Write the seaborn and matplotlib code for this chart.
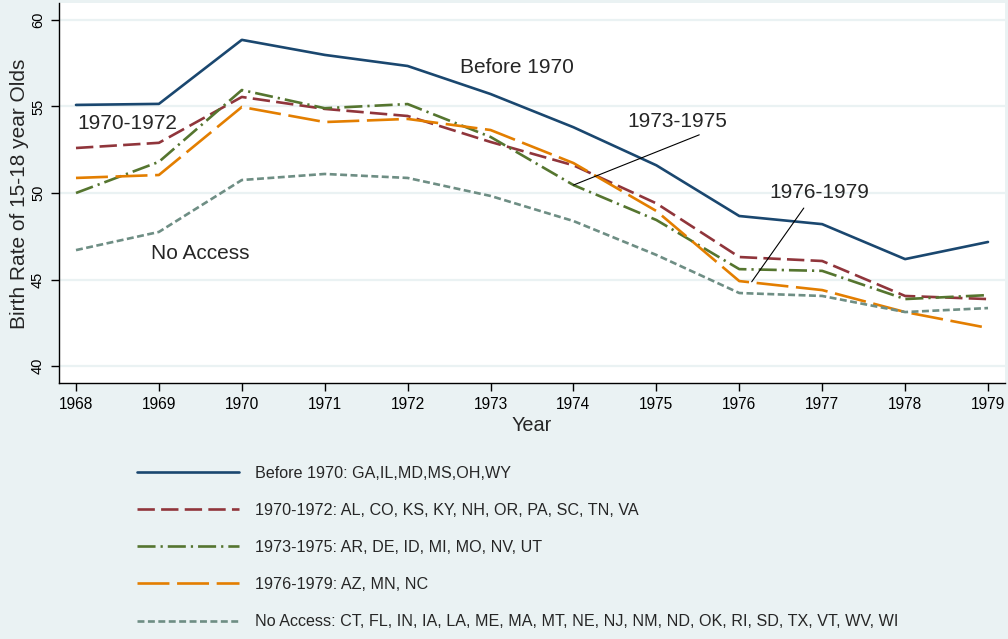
import pandas as pd
import matplotlib.pyplot as plt
import seaborn as sns

years = list(range(1968, 1980))

before_1970 = [55.09, 55.15, 58.85, 57.98, 57.34, 55.72, 53.80, 51.60, 48.67, 48.20, 46.18, 47.17]
y1970_1972 = [52.60, 52.90, 55.55, 54.86, 54.45, 52.95, 51.60, 49.40, 46.30, 46.07, 44.05, 43.87]
y1973_1975 = [50.00, 51.80, 55.95, 54.90, 55.14, 53.24, 50.46, 48.44, 45.60, 45.50, 43.87, 44.10]
y1976_1979 = [50.87, 51.04, 54.97, 54.10, 54.28, 53.64, 51.73, 48.96, 44.91, 44.39, 43.12, 42.20]
no_access = [46.70, 47.75, 50.75, 51.10, 50.87, 49.83, 48.38, 46.42, 44.22, 44.05, 43.12, 43.35]

groups = ["Before 1970", "1970-1972", "1973-1975", "1976-1979", "No Access"]
legend_labels = [
    "Before 1970: GA,IL,MD,MS,OH,WY",
    "1970-1972: AL, CO, KS, KY, NH, OR, PA, SC, TN, VA",
    "1973-1975: AR, DE, ID, MI, MO, NV, UT",
    "1976-1979: AZ, MN, NC",
    "No Access: CT, FL, IN, IA, LA, ME, MA, MT, NE, NJ, NM, ND, OK, RI, SD, TX, VT, WV, WI",
]
colors = ["#1a476f", "#90353b", "#55752f", "#e37e00", "#6e8e84"]
dashes = [None, (12.5, 4.5), (13, 3.6, 1.6, 3.6), (23, 5.5), (5, 2.5)]

# long form table for seaborn
series = [before_1970, y1970_1972, y1973_1975, y1976_1979, no_access]
df = pd.concat(
    [pd.DataFrame({"Year": years, "rate": vals, "group": g}) for g, vals in zip(groups, series)],
    ignore_index=True,
)

bg = "#eaf2f3"
sns.set_style("white")
plt.rcParams["font.family"] = ["Liberation Sans", "DejaVu Sans"]
plt.rcParams["lines.scale_dashes"] = False

fig = plt.figure(figsize=(10.08, 6.39), dpi=100, facecolor=bg)
ax = fig.add_axes([59 / 1008, 1 - 383 / 639, (1005 - 59) / 1008, (383 - 3) / 639])
ax.set_facecolor("white")

handles = []
for g, c, d, lab in zip(groups, colors, dashes, legend_labels):
    sns.lineplot(data=df[df["group"] == g], x="Year", y="rate", color=c, lw=1.9, ax=ax, label=lab)
    line = ax.lines[-1]
    if d is not None:
        line.set_dashes(d)
    handles.append(line)

ax.set_xlim(1967.795, 1979.205)
ax.set_ylim(39.02, 60.98)
ax.set_xticks(years)
ax.set_yticks([40, 45, 50, 55, 60])
ax.grid(axis="y", color=bg, lw=1.6)
ax.set_axisbelow(True)
for s in ["top", "right"]:
    ax.spines[s].set_visible(False)
for s in ["left", "bottom"]:
    ax.spines[s].set_color("black")
    ax.spines[s].set_linewidth(1.0)
ax.tick_params(axis="both", direction="out", length=6, width=1, colors="black", left=True, bottom=True)
ax.tick_params(axis="x", labelsize=11.2, pad=4)
ax.tick_params(axis="y", labelsize=10.5, pad=4)
for t in ax.get_yticklabels():
    t.set_rotation(90)
    t.set_va("center")
ax.set_xlabel("Year", fontsize=14.3, labelpad=3)
ax.set_ylabel("Birth Rate of 15-18 year Olds", fontsize=15)
ax.yaxis.set_label_coords(-0.032, 0.497)

# in-plot group labels
ax.text(1973.32, 57.23, "Before 1970", fontsize=15, ha="center", va="center")
ax.text(1968.62, 53.99, "1970-1972", fontsize=15, ha="center", va="center")
ax.text(1969.50, 46.53, "No Access", fontsize=15, ha="center", va="center")
ax.annotate("1973-1975", xy=(1974.0, 50.46), xytext=(1975.25, 54.16), fontsize=15, ha="center", va="center",
            arrowprops=dict(arrowstyle="-", color="black", lw=0.8, shrinkA=2, shrinkB=0, relpos=(0.83, 0)))
ax.annotate("1976-1979", xy=(1976.15, 44.87), xytext=(1976.97, 50.0), fontsize=15, ha="center", va="center",
            arrowprops=dict(arrowstyle="-", color="black", lw=0.8, shrinkA=2, shrinkB=0, relpos=(0.38, 0)))

ax.get_legend().remove()
fig.legend(handles, legend_labels, loc="center left", bbox_to_anchor=(137 / 1008, 1 - 547.5 / 639),
           frameon=False, ncol=1, handlelength=6.3, handletextpad=1.0, labelspacing=1.37,
           borderpad=0, borderaxespad=0, fontsize=11.6)

fig.savefig("out.png", dpi=100, facecolor=bg)
